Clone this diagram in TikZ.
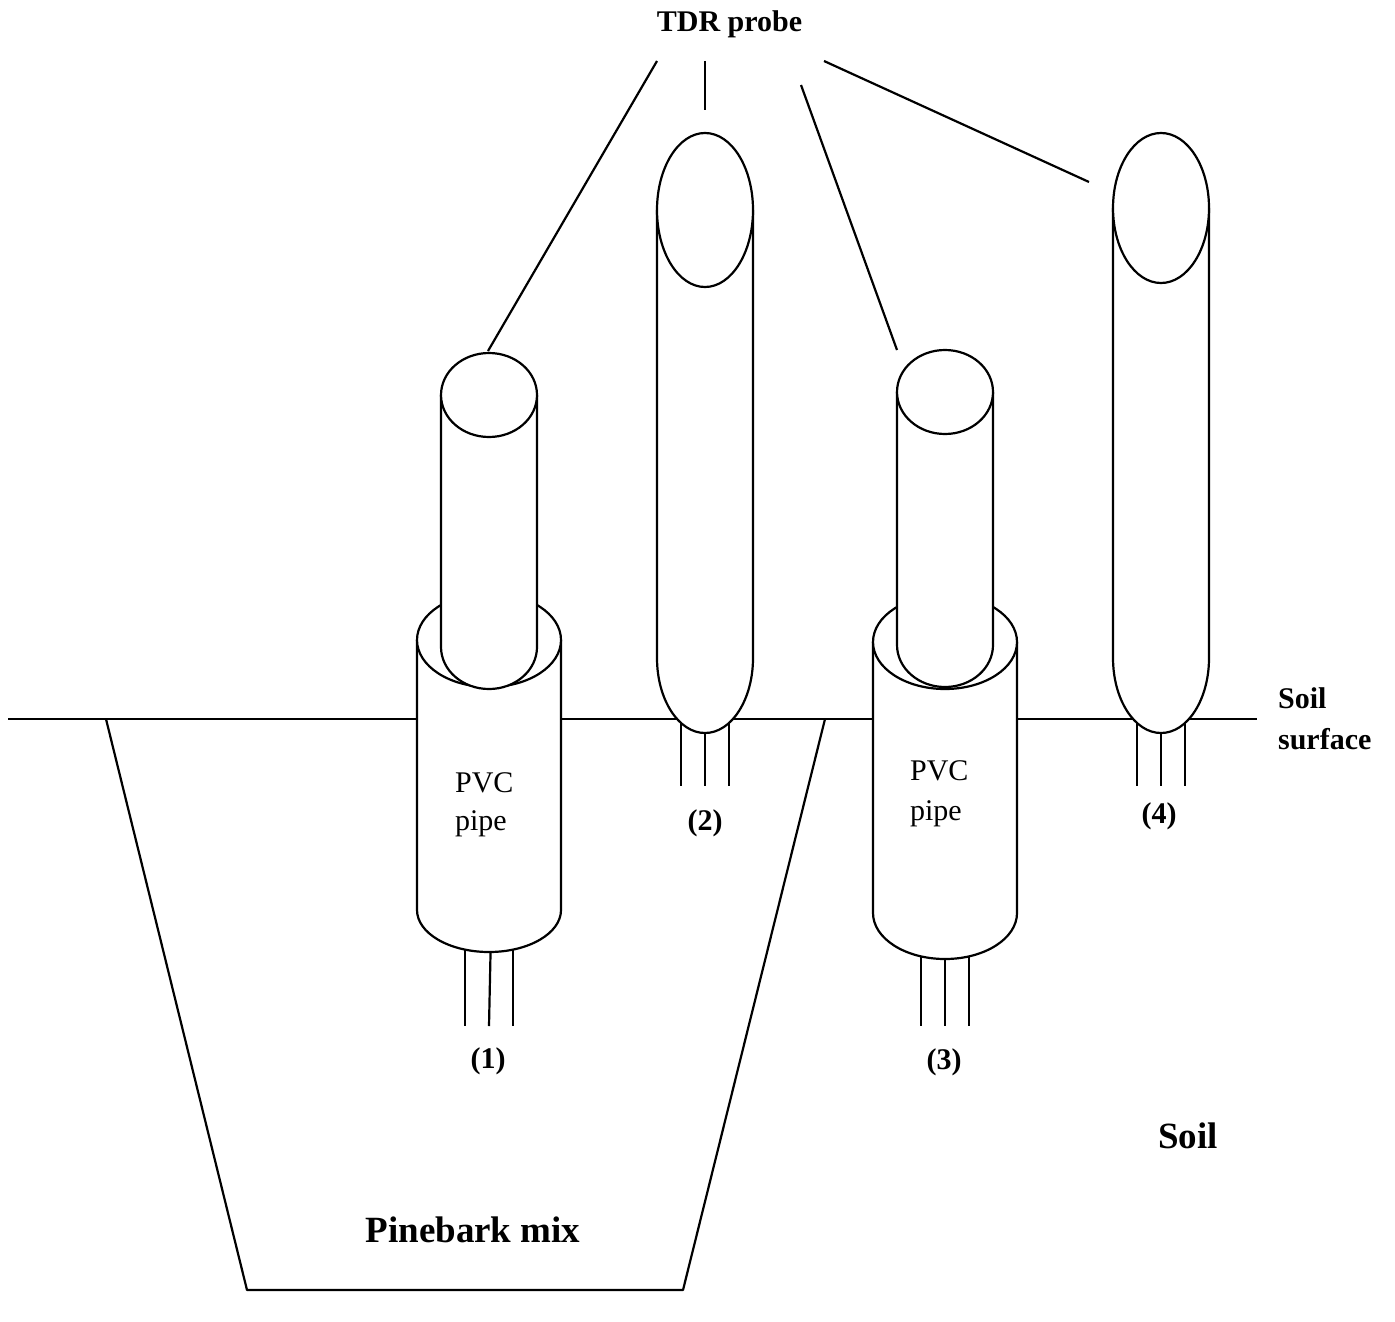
\documentclass[tikz,border=0pt]{standalone}
\usepackage{fontspec}
\setmainfont{Liberation Serif}
% three sensing rods below a probe, centred on #1, from y=#2 to y=#3
\newcommand{\rodset}[3]{%
  \foreach \dx in {-24,0,24} \draw ({#1+\dx},#2) -- ({#1+\dx},#3);}
% open tube body with a rounded lower end: centre x, top y, end of straight part,
% half-width (pt), depth of the rounded end (pt)
\newcommand{\tubebody}[5]{%
  \path[tube] ({#1-2*#4},#2) -- ({#1-2*#4},#3)
    arc[start angle=180,end angle=360,x radius=#4pt,y radius=#5pt]
    -- ({#1+2*#4},#2);}
\begin{document}
\begin{tikzpicture}[x=0.5pt,y=-0.5pt,line width=1.1pt,line join=round,
  tube/.style={draw,fill=white},
  lbl/.style={inner sep=0pt,font=\bfseries\fontsize{15}{18}\selectfont},
  bigl/.style={inner sep=0pt,font=\bfseries\fontsize{18.5}{22}\selectfont},
  txt/.style={inner sep=0pt,font=\fontsize{15}{18}\selectfont}]
\useasboundingbox (0,0) rectangle (1395,1321);

% soil surface and the pinebark-filled trench
\coordinate (sl) at (8,719);
\coordinate (sr) at (1257,719);
\draw (sl) -- (sr);
\coordinate (tl) at (106,719);
\coordinate (bl) at (247,1290);
\coordinate (br) at (683,1290);
\coordinate (tr) at (825,719);
\draw (tl) -- (bl) -- (br) -- (tr);

% (1) probe in a PVC pipe, in the pinebark mix
\draw (465,930) -- (465,1026);
\draw (491,930) -- (489,1026);
\draw (513,930) -- (513,1026);
\tubebody{489}{640}{910}{36}{21}
\draw[tube] (489,640) ellipse[x radius=36pt,y radius=23.5pt];
\tubebody{489}{395}{647}{24}{21}
\draw[tube] (489,395) ellipse[x radius=24pt,y radius=21pt];

% (2) probe at the surface
\rodset{705}{700}{786}
\tubebody{705}{210}{658}{24}{37.5}
\draw[tube] (705,210) ellipse[x radius=24pt,y radius=38.5pt];

% (3) probe in a PVC pipe, in the soil
\rodset{945}{930}{1026}
\tubebody{945}{642}{913}{36}{23}
\draw[tube] (945,642) ellipse[x radius=36pt,y radius=23.5pt];
\tubebody{945}{392}{645}{24}{21}
\draw[tube] (945,392) ellipse[x radius=24pt,y radius=21pt];

% (4) probe at the surface
\rodset{1161}{700}{786}
\tubebody{1161}{208}{658}{24}{37.5}
\draw[tube] (1161,208) ellipse[x radius=24pt,y radius=37.5pt];

% leader lines from the title to each probe
\node[lbl,anchor=base] (tdr) at (729.5,32) {TDR probe};
\coordinate (c1) at (657,61);   \coordinate (top1) at (488,351);
\coordinate (c2) at (705,61);   \coordinate (top2) at (705,110);
\coordinate (c3) at (801,85);   \coordinate (top3) at (897,350);
\coordinate (c4) at (824,61);   \coordinate (top4) at (1089,182);
\draw (c1) -- (top1);
\draw (c2) -- (top2);
\draw (c3) -- (top3);
\draw (c4) -- (top4);

% labels
\node[txt,anchor=base west] (pvc1a) at (454,792) {PVC};
\node[txt,anchor=base west] (pvc1b) at (454,830) {pipe};
\node[txt,anchor=base west] (pvc3a) at (909,780) {PVC};
\node[txt,anchor=base west] (pvc3b) at (909,820) {pipe};
\node[lbl,anchor=base] (n1) at (488,1068) {(1)};
\node[lbl,anchor=base] (n2) at (705,830) {(2)};
\node[lbl,anchor=base] (n3) at (944,1069) {(3)};
\node[lbl,anchor=base] (n4) at (1159,823) {(4)};
\node[lbl,anchor=base west] (ss1) at (1277,708) {Soil};
\node[lbl,anchor=base west] (ss2) at (1277,749) {surface};
\node[bigl,anchor=base] (soil) at (1188,1148) {Soil};
\node[bigl,anchor=base] (pine) at (473,1242) {Pinebark mix};
\end{tikzpicture}
\end{document}
